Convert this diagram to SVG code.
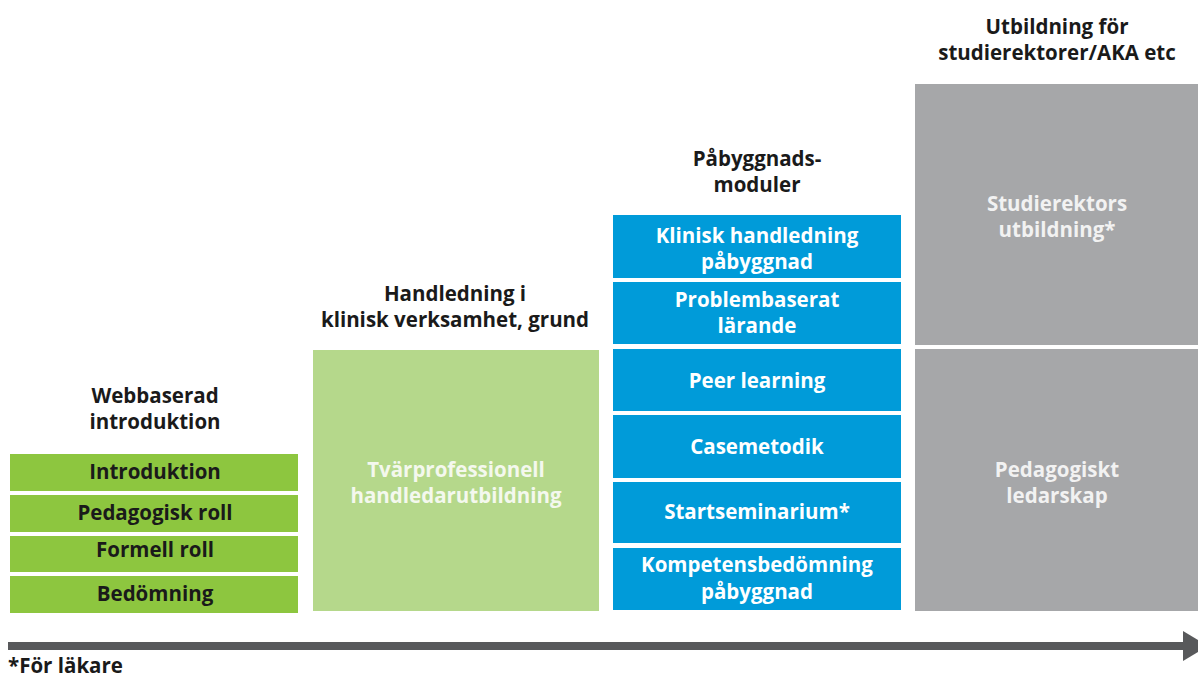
<svg xmlns="http://www.w3.org/2000/svg" width="1198" height="679" viewBox="0 0 1198 679">
  <style>
    text { font-family: "Open Sans", "Liberation Sans", sans-serif; font-weight: 700; font-size: 20.5px; text-anchor: middle; }
    .head { fill: #1a1a1a; }
    .dark { fill: #1a1a1a; }
    .light { fill: #ffffff; }
    .soft { fill: #f4f8ee; }
    .grey-txt { fill: #f2f2f2; }
    .lime { fill: #8dc63f; }
    .pale { fill: #b5d88b; }
    .blue { fill: #009bd9; }
    .grey { fill: #a6a7a9; }
  </style>
  <rect width="1198" height="679" fill="#ffffff"/>

  <!-- column headings -->
  <g id="head-webb">
    <text class="head" x="155" y="403">Webbaserad<tspan x="155" dy="26">introduktion</tspan></text>
  </g>
  <g id="head-grund">
    <text class="head" x="455" y="301">Handledning i<tspan x="455" dy="26">klinisk verksamhet, grund</tspan></text>
  </g>
  <g id="head-pabyggnad">
    <text class="head" x="757" y="166">Påbyggnads-<tspan x="757" dy="26">moduler</tspan></text>
  </g>
  <g id="head-studierektor">
    <text class="head" x="1057" y="34">Utbildning för<tspan x="1057" dy="26">studierektorer/AKA etc</tspan></text>
  </g>

  <!-- web-based introduction modules -->
  <g id="introduktion">
    <rect class="lime" x="10" y="454" width="288" height="37"/>
    <text class="dark" x="155" y="479">Introduktion</text>
  </g>
  <g id="pedagogisk-roll">
    <rect class="lime" x="10" y="495" width="288" height="37"/>
    <text class="dark" x="155" y="520">Pedagogisk roll</text>
  </g>
  <g id="formell-roll">
    <rect class="lime" x="10" y="536" width="288" height="36"/>
    <text class="dark" x="155" y="557">Formell roll</text>
  </g>
  <g id="bedomning">
    <rect class="lime" x="10" y="576" width="288" height="37"/>
    <text class="dark" x="155" y="601">Bedömning</text>
  </g>

  <!-- basic supervision course -->
  <g id="tvarprofessionell">
    <rect class="pale" x="313" y="350" width="286" height="261"/>
    <text class="soft" x="456" y="477">Tvärprofessionell<tspan x="456" dy="26">handledarutbildning</tspan></text>
  </g>

  <!-- add-on modules -->
  <g id="klinisk-handledning">
    <rect class="blue" x="613" y="215" width="288" height="63"/>
    <text class="light" x="757" y="243">Klinisk handledning<tspan x="757" dy="26">påbyggnad</tspan></text>
  </g>
  <g id="problembaserat">
    <rect class="blue" x="613" y="282" width="288" height="62"/>
    <text class="light" x="757" y="307">Problembaserat<tspan x="757" dy="26">lärande</tspan></text>
  </g>
  <g id="peer-learning">
    <rect class="blue" x="613" y="349" width="288" height="62"/>
    <text class="light" x="757" y="388">Peer learning</text>
  </g>
  <g id="casemetodik">
    <rect class="blue" x="613" y="415" width="288" height="63"/>
    <text class="light" x="757" y="454">Casemetodik</text>
  </g>
  <g id="startseminarium">
    <rect class="blue" x="613" y="482" width="288" height="61"/>
    <text class="light" x="757" y="519">Startseminarium*</text>
  </g>
  <g id="kompetensbedomning">
    <rect class="blue" x="613" y="548" width="288" height="62"/>
    <text class="light" x="757" y="572">Kompetensbedömning<tspan x="757" dy="27">påbyggnad</tspan></text>
  </g>

  <!-- director of studies education -->
  <g id="studierektors-utbildning">
    <rect class="grey" x="915" y="84" width="283" height="261"/>
    <text class="grey-txt" x="1057" y="211">Studierektors<tspan x="1057" dy="26">utbildning*</tspan></text>
  </g>
  <g id="pedagogiskt-ledarskap">
    <rect class="grey" x="915" y="349" width="283" height="262"/>
    <text class="grey-txt" x="1057" y="477">Pedagogiskt<tspan x="1057" dy="26">ledarskap</tspan></text>
  </g>

  <!-- time axis -->
  <g id="connectors">
    <line x1="8" y1="646" x2="1186" y2="646" stroke="#58595b" stroke-width="8"/>
    <path d="M1183,631 L1208,646 L1183,661 z" fill="#58595b"/>
  </g>

  <!-- footnote -->
  <text class="dark" x="8" y="673" style="text-anchor:start">*För läkare</text>
</svg>
